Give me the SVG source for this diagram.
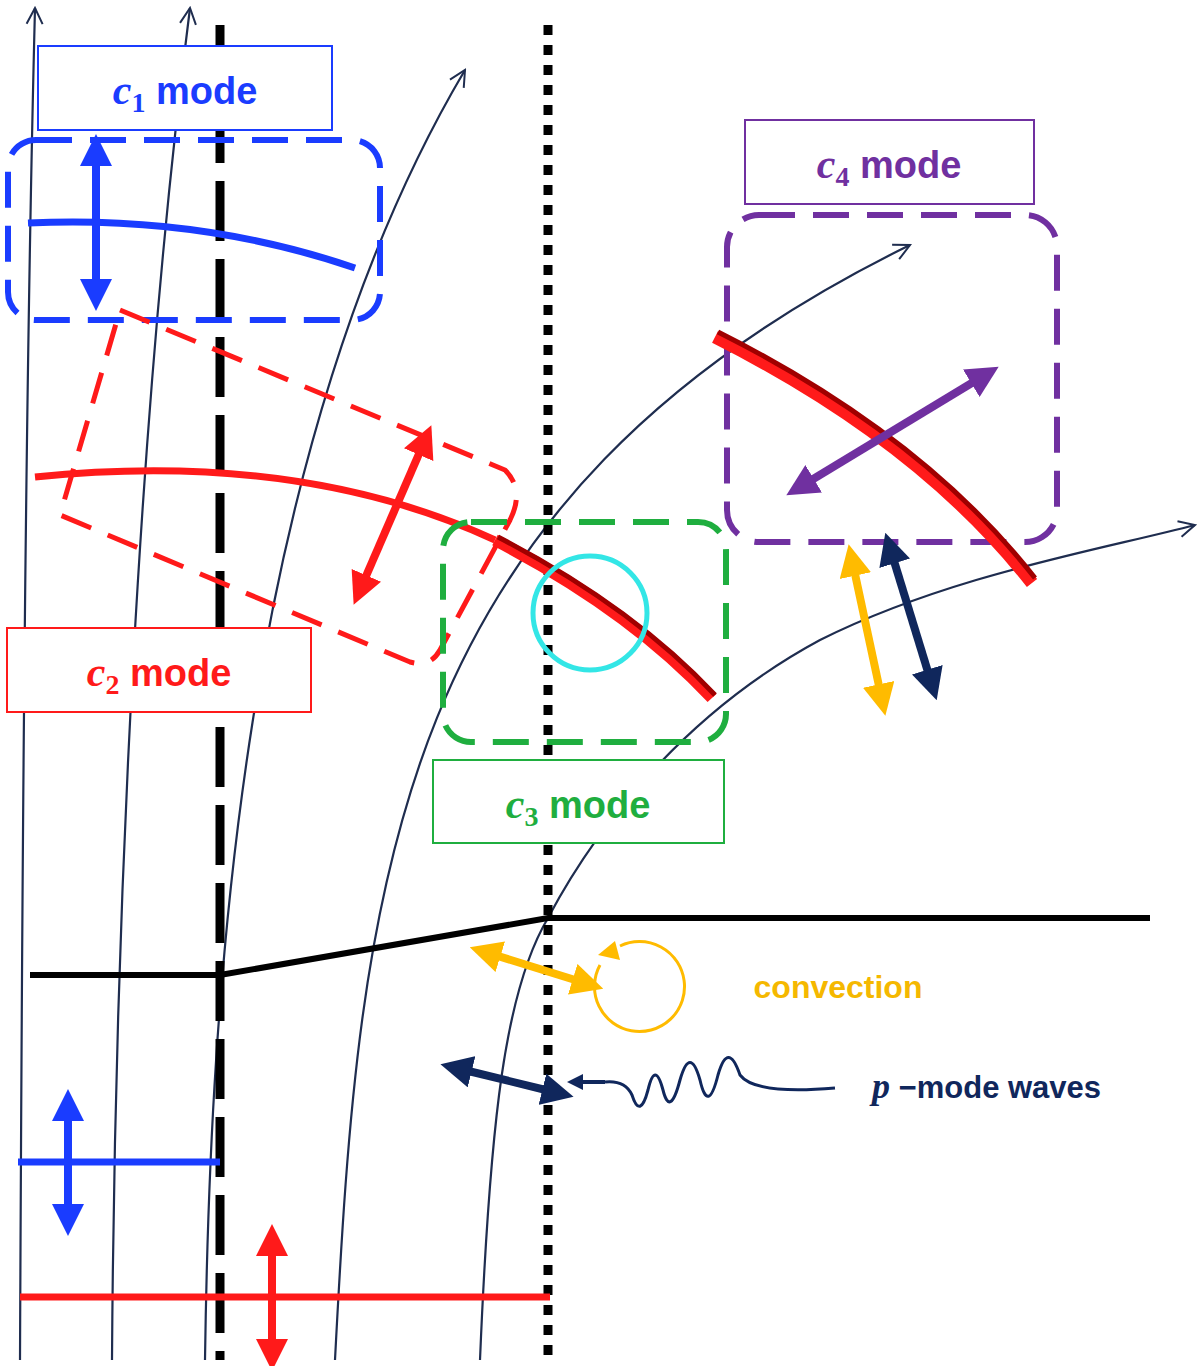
<svg xmlns="http://www.w3.org/2000/svg" width="1200" height="1366" viewBox="0 0 1200 1366">
<defs>
<marker id="open" viewBox="0 0 20 20" refX="18" refY="10" markerWidth="20" markerHeight="20" markerUnits="userSpaceOnUse" orient="auto"><path d="M2,2 L18,10 L2,18" fill="none" stroke="#1f2d4f" stroke-width="2"/></marker>
<marker id="ab" viewBox="0 0 10 10" refX="5" refY="5" markerWidth="4" markerHeight="4" orient="auto-start-reverse"><path d="M0,0 L10,5 L0,10 z" fill="context-stroke"/></marker>
</defs>
<style>
.fl{fill:none;stroke:#1f2d4f;stroke-width:2.2}
.lbl{font-family:"Liberation Sans",Arial,sans-serif;font-weight:bold;font-size:38px}
.c{font-family:"Liberation Serif","Times New Roman",serif;font-style:italic;font-weight:bold}
.s{font-family:"Liberation Serif","Times New Roman",serif;font-weight:bold}
.da{stroke-width:8;fill:none}
</style>
<rect width="1200" height="1366" fill="#fff"/>
<g id="connectors">
<path class="fl" marker-end="url(#open)" d="M20,1360 C22,900 25,400 35,8"/>
<path class="fl" marker-end="url(#open)" d="M112,1360 C115,900 140,400 190,8"/>
<path class="fl" marker-end="url(#open)" d="M205,1360 C210,1000 240,450 465,70"/>
<path class="fl" marker-end="url(#open)" d="M335,1360 C360,880 390,500 910,245"/>
<path class="fl" marker-end="url(#open)" d="M480,1360 C490,1120 505,990 548,918 C600,820 690,710 820,640 C950,575 1100,550 1195,525"/>
<line x1="220" y1="25" x2="220" y2="1360" stroke="#000" stroke-width="9" stroke-dasharray="60,18"/>
<line x1="548" y1="25" x2="548" y2="1360" stroke="#000" stroke-width="9" stroke-dasharray="10,10"/>
<polyline points="30,975 220,975 548,918 1150,918" fill="none" stroke="#000" stroke-width="6"/>
</g>
<g id="c1">
<rect x="38" y="46" width="294" height="84" fill="#fff" stroke="#1a3cff" stroke-width="2"/>
<text x="185" y="104" text-anchor="middle" class="lbl" fill="#1a3cff"><tspan class="c" font-size="42">c</tspan><tspan class="s" font-size="28" dy="8">1</tspan><tspan dy="-8"> mode</tspan></text>
<rect x="8" y="140" width="372" height="180" rx="28" fill="none" stroke="#1a3cff" stroke-width="6" stroke-dasharray="36,18"/>
<path d="M28,223 Q200,215 355,268" fill="none" stroke="#1a3cff" stroke-width="7"/>
<line x1="96" y1="150" x2="96" y2="295" stroke="#1a3cff" class="da" marker-start="url(#ab)" marker-end="url(#ab)"/>
</g>
<g id="c2">
<path d="M120,310 L505,470 Q525,490 510,520 L440,650 Q430,668 410,662 L60,515 Z" fill="none" stroke="#ff1a1a" stroke-width="5" stroke-dasharray="32,18"/>
<path d="M35,477 Q300,450 495,540" fill="none" stroke="#ff1a1a" stroke-width="7"/>
<path d="M495,540 Q630,610 712,698" fill="none" stroke="#ff1a1a" stroke-width="12"/>
<path d="M495,540 Q630,610 712,698" fill="none" stroke="#a00000" stroke-width="5" transform="translate(3,-3)"/>
<line x1="425" y1="440" x2="360" y2="590" stroke="#ff1a1a" class="da" marker-start="url(#ab)" marker-end="url(#ab)"/>
<rect x="7" y="628" width="304" height="84" fill="#fff" stroke="#ff1a1a" stroke-width="2"/>
<text x="159" y="686" text-anchor="middle" class="lbl" fill="#ff1a1a"><tspan class="c" font-size="42">c</tspan><tspan class="s" font-size="28" dy="8">2</tspan><tspan dy="-8"> mode</tspan></text>
</g>
<g id="c3">
<rect x="443" y="522" width="283" height="220" rx="28" fill="none" stroke="#1fae3f" stroke-width="6" stroke-dasharray="36,18"/>
<circle cx="590" cy="613" r="57" fill="none" stroke="#33e6e6" stroke-width="5"/>
<rect x="433" y="760" width="291" height="83" fill="#fff" stroke="#1fae3f" stroke-width="2"/>
<text x="578" y="818" text-anchor="middle" class="lbl" fill="#1fae3f"><tspan class="c" font-size="42">c</tspan><tspan class="s" font-size="28" dy="8">3</tspan><tspan dy="-8"> mode</tspan></text>
</g>
<g id="c4">
<rect x="745" y="120" width="289" height="84" fill="#fff" stroke="#7030a0" stroke-width="2"/>
<text x="889" y="178" text-anchor="middle" class="lbl" fill="#7030a0"><tspan class="c" font-size="42">c</tspan><tspan class="s" font-size="28" dy="8">4</tspan><tspan dy="-8"> mode</tspan></text>
<rect x="727" y="215" width="330" height="327" rx="32" fill="none" stroke="#7030a0" stroke-width="6" stroke-dasharray="36,18"/>
<path d="M715,337 Q920,440 1032,583" fill="none" stroke="#ff1a1a" stroke-width="13"/>
<path d="M718,332 Q923,435 1035,578" fill="none" stroke="#a00000" stroke-width="5"/>
<line x1="800" y1="487" x2="985" y2="375" stroke="#7030a0" class="da" marker-start="url(#ab)" marker-end="url(#ab)"/>
<line x1="852" y1="560" x2="882" y2="700" stroke="#ffbb00" class="da" marker-start="url(#ab)" marker-end="url(#ab)"/>
<line x1="890" y1="548" x2="932" y2="685" stroke="#10275c" class="da" marker-start="url(#ab)" marker-end="url(#ab)"/>
</g>
<g id="convection">
<line x1="485" y1="952" x2="588" y2="984" stroke="#ffbb00" class="da" marker-start="url(#ab)" marker-end="url(#ab)"/>
<path d="M600,965 A45,45 0 1 0 620,946" fill="none" stroke="#ffbb00" stroke-width="3"/>
<path d="M598,955 L615,941 L620,960 Z" fill="#ffbb00"/>
<text x="838" y="998" text-anchor="middle" font-family="Liberation Sans,Arial,sans-serif" font-weight="bold" font-size="32" fill="#f5b800">convection</text>
</g>
<g id="pmode">
<line x1="456" y1="1068" x2="558" y2="1093" stroke="#10275c" class="da" marker-start="url(#ab)" marker-end="url(#ab)"/>
<line x1="605" y1="1082" x2="575" y2="1082" stroke="#10275c" stroke-width="4" marker-end="url(#ab)"/>
<path d="M605,1082 Q625,1080 632,1095 Q640,1120 648,1090 Q655,1060 663,1090 Q670,1118 680,1080 Q690,1045 700,1080 Q708,1115 718,1075 Q728,1040 740,1075 Q755,1095 835,1088" fill="none" stroke="#10275c" stroke-width="3"/>
<text x="872" y="1098" font-family="Liberation Sans,Arial,sans-serif" font-weight="bold" font-size="31" fill="#10275c"><tspan class="c" font-size="36">p</tspan> −mode waves</text>
</g>
<g id="bottom">
<line x1="18" y1="1162" x2="220" y2="1162" stroke="#1a3cff" stroke-width="7"/>
<line x1="68" y1="1105" x2="68" y2="1220" stroke="#1a3cff" class="da" marker-start="url(#ab)" marker-end="url(#ab)"/>
<line x1="20" y1="1297" x2="550" y2="1297" stroke="#ff1a1a" stroke-width="7"/>
<line x1="272" y1="1240" x2="272" y2="1355" stroke="#ff1a1a" class="da" marker-start="url(#ab)" marker-end="url(#ab)"/>
</g>
</svg>
